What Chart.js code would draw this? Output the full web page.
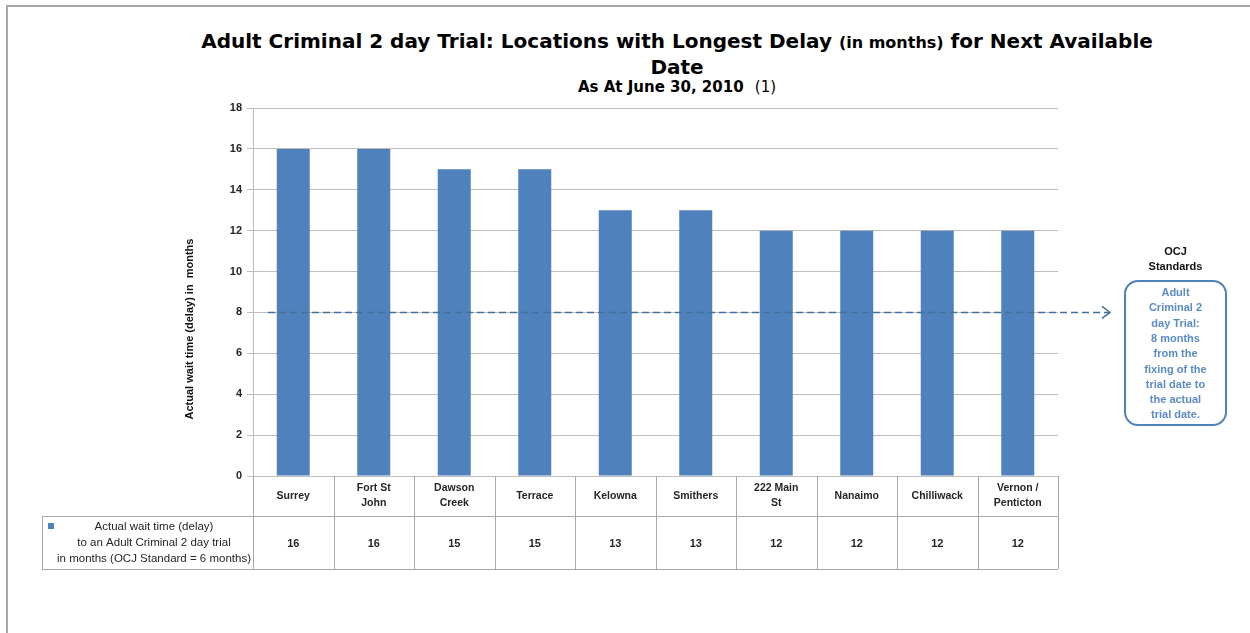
<!DOCTYPE html>
<html lang="en">
<head>
    <meta charset="UTF-8">
    <title>Adult Criminal 2 day Trial: Locations with Longest Delay</title>
    <script src="https://cdn.jsdelivr.net/npm/chart.js"></script>
    <style>
        body {
            margin: 0;
            padding: 0;
            background: #fff;
            width: 1250px;
            height: 633px;
            overflow: hidden;
            position: relative;
        }
        .frame {
            position: absolute;
            left: 6px;
            top: 5px;
            width: 1300px;
            height: 700px;
            border-top: 2px solid #a8a8a8;
            border-left: 2px solid #a8a8a8;
        }
        .title {
            position: absolute;
            left: 177px;
            width: 1000px;
            text-align: center;
            font-family: 'DejaVu Sans', Verdana, sans-serif;
            font-weight: bold;
            color: #000;
        }
        .t1 { top: 29px; font-size: 20px; line-height: 24px; }
        .t1 small { font-size: 16px; }
        .t3 { top: 78px; font-size: 15px; line-height: 18px; }
        .t3 span { font-weight: normal; margin-left: 6px; }
        #chart { position: absolute; left: 0; top: 0; }
    </style>
</head>
<body>
    <div class="frame"></div>
    <div class="title t1">Adult Criminal 2 day Trial: Locations with Longest Delay <small>(in months)</small> for Next Available<br>Date</div>
    <div class="title t3">As At June 30, 2010 <span>(1)</span></div>
    <canvas id="chart" width="1250" height="633"></canvas>
    <script>
    // data
    const categories = ['Surrey', ['Fort St', 'John'], ['Dawson', 'Creek'], 'Terrace', 'Kelowna', 'Smithers',
        ['222 Main', 'St'], 'Nanaimo', 'Chilliwack', ['Vernon /', 'Penticton']];
    const waitMonths = [16, 16, 15, 15, 13, 13, 12, 12, 12, 12];
    const yMin = 0, yMax = 18, yStep = 2;
    const standardMonths = 8;
    const seriesLabel = ['Actual wait time (delay)', 'to an Adult Criminal 2 day trial', 'in months (OCJ Standard = 6 months)'];
    const yTitle = 'Actual wait time (delay) in  months';
    const noteTitle = ['OCJ', 'Standards'];
    const noteLines = ['Adult', 'Criminal 2', 'day Trial:', '8 months', 'from the', 'fixing of the', 'trial date to', 'the actual', 'trial date.'];

    const barBlue = '#4f81bd';
    const gridGray = '#bdbdbd';
    const tableGray = '#a9a9a9';
    const bodyFont = "'Liberation Sans', Arial, sans-serif";

    // dashed standard line + arrow, drawn over the bars
    const standardLine = {
        id: 'standardLine',
        afterDatasetsDraw(chart) {
            const ctx = chart.ctx;
            const area = chart.chartArea;
            const y = chart.scales.y.getPixelForValue(standardMonths);
            const x0 = area.left + 15, x1 = area.right + 52;
            ctx.save();
            ctx.strokeStyle = '#41719c';
            ctx.lineWidth = 1.5;
            ctx.setLineDash([7, 4]);
            ctx.beginPath();
            ctx.moveTo(x0, y);
            ctx.lineTo(x1, y);
            ctx.stroke();
            ctx.setLineDash([]);
            ctx.beginPath();
            ctx.moveTo(x1 - 8, y - 6);
            ctx.lineTo(x1, y);
            ctx.lineTo(x1 - 8, y + 6);
            ctx.stroke();
            ctx.restore();
        }
    };

    // data table under the plot, y title and the note box on the right
    const dataTable = {
        id: 'dataTable',
        afterDraw(chart) {
            const ctx = chart.ctx;
            const area = chart.chartArea;
            const xs = chart.scales.x;
            const top = area.bottom;
            const mid = top + 40;
            const bot = top + 93;
            const legLeft = 42;
            ctx.save();

            // y axis title (sits lower than the axis middle in the original)
            ctx.save();
            ctx.translate(190, 329);
            ctx.rotate(-Math.PI / 2);
            ctx.textAlign = 'center';
            ctx.textBaseline = 'middle';
            ctx.fillStyle = '#111';
            ctx.font = 'bold 11px ' + bodyFont;
            ctx.fillText(yTitle, 0, 0);
            ctx.restore();

            ctx.strokeStyle = tableGray;
            ctx.lineWidth = 1;
            ctx.beginPath();
            ctx.moveTo(legLeft, mid + 0.5); ctx.lineTo(area.right, mid + 0.5);
            ctx.moveTo(legLeft, bot + 0.5); ctx.lineTo(area.right, bot + 0.5);
            ctx.moveTo(legLeft + 0.5, mid); ctx.lineTo(legLeft + 0.5, bot);
            for (let i = 0; i <= categories.length; i++) {
                const x = Math.round(xs.getPixelForValue(i - 0.5)) + 0.5;
                ctx.moveTo(x, top); ctx.lineTo(x, bot);
            }
            ctx.stroke();

            // category labels and values
            ctx.textAlign = 'center';
            ctx.textBaseline = 'middle';
            ctx.fillStyle = '#262626';
            categories.forEach((c, i) => {
                const x = xs.getPixelForValue(i);
                const lines = Array.isArray(c) ? c : [c];
                ctx.font = 'bold 10.5px ' + bodyFont;
                lines.forEach((l, k) => {
                    ctx.fillText(l, x, (top + mid) / 2 + (k - (lines.length - 1) / 2) * 15);
                });
                ctx.font = 'bold 11px ' + bodyFont;
                ctx.fillText(String(waitMonths[i]), x, (mid + bot) / 2 + 1);
            });

            // legend cell
            ctx.fillStyle = barBlue;
            ctx.fillRect(legLeft + 6, mid + 7, 6, 6);
            ctx.fillStyle = '#262626';
            ctx.font = '11.5px ' + bodyFont;
            const legX = 154;
            seriesLabel.forEach((l, k) => {
                ctx.fillText(l, legX, (mid + bot) / 2 + (k - 1) * 16);
            });

            // OCJ standards note
            const bx = area.right + 67, by = 281, bw = 101, bh = 144;
            ctx.font = 'bold 11px ' + bodyFont;
            ctx.fillStyle = '#111';
            noteTitle.forEach((l, k) => ctx.fillText(l, bx + bw / 2, 252 + k * 15));
            ctx.strokeStyle = barBlue;
            ctx.lineWidth = 2;
            ctx.beginPath();
            ctx.roundRect(bx, by, bw, bh, 13);
            ctx.stroke();
            ctx.fillStyle = '#5b8bcb';
            ctx.font = 'bold 11px ' + bodyFont;
            noteLines.forEach((l, k) => ctx.fillText(l, bx + bw / 2, by + 12 + k * 15.3));
            ctx.restore();
        }
    };

    new Chart(document.getElementById('chart'), {
        type: 'bar',
        data: {
            labels: categories,
            datasets: [{
                label: seriesLabel.join(' '),
                data: waitMonths,
                backgroundColor: barBlue,
                borderWidth: 0,
                barPercentage: 0.41,
                categoryPercentage: 1.0
            }]
        },
        options: {
            responsive: false,
            animation: false,
            events: [],
            layout: { padding: { left: 180, right: 192, top: 108, bottom: 157 } },
            plugins: {
                legend: { display: false },
                title: { display: false },
                tooltip: { enabled: false }
            },
            scales: {
                x: {
                    ticks: { display: false },
                    grid: { display: false },
                    border: { display: false },
                    afterFit(s) { s.height = 0; }
                },
                y: {
                    min: yMin,
                    max: yMax,
                    ticks: {
                        stepSize: yStep,
                        padding: 5,
                        color: '#262626',
                        font: { family: bodyFont, size: 11, weight: 'bold' }
                    },
                    grid: { color: gridGray, tickLength: 6 },
                    border: { color: gridGray },
                    afterFit(s) { s.width = 73; }
                }
            }
        },
        plugins: [standardLine, dataTable]
    });
    </script>
</body>
</html>
